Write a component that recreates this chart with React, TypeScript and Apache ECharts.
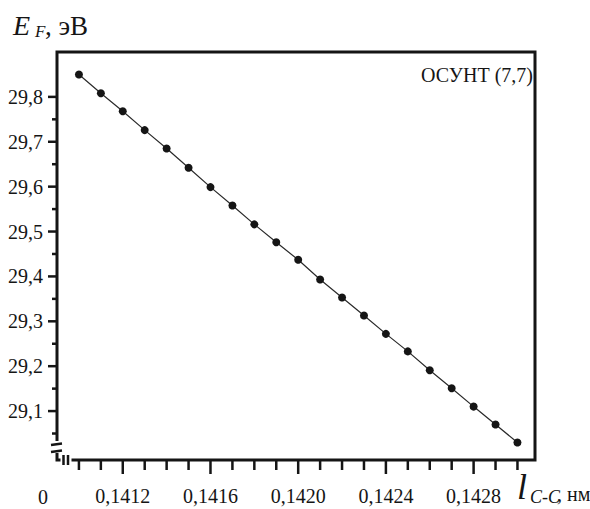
import React, { useEffect, useRef } from 'react';
import * as echarts from 'echarts';

// C–C bond length, nm
const bondLengths = [
  0.141, 0.1411, 0.1412, 0.1413, 0.1414, 0.1415, 0.1416, 0.1417, 0.1418, 0.1419, 0.142,
  0.1421, 0.1422, 0.1423, 0.1424, 0.1425, 0.1426, 0.1427, 0.1428, 0.1429, 0.143,
];
// Fermi energy, eV
const fermiEnergies = [
  29.85, 29.808, 29.768, 29.726, 29.685, 29.642, 29.599, 29.558, 29.516, 29.476, 29.437,
  29.393, 29.353, 29.313, 29.272, 29.233, 29.191, 29.151, 29.11, 29.07, 29.03,
];

const xMajorTicks = [0.1412, 0.1416, 0.142, 0.1424, 0.1428];
const xMinorTicks = [
  0.141, 0.1411, 0.1413, 0.1414, 0.1415, 0.1417, 0.1418, 0.1419, 0.1421, 0.1422, 0.1423,
  0.1425, 0.1426, 0.1427, 0.1429, 0.143,
];
const yMajorTicks = [29.1, 29.2, 29.3, 29.4, 29.5, 29.6, 29.7, 29.8];
const yMinorTicks = [29.05, 29.15, 29.25, 29.35, 29.45, 29.55, 29.65, 29.75];

const seriesLabel = 'ОСУНТ (7,7)';

const SERIF = 'Liberation Serif';
const INK = '#151515';

function buildOption(): any {
  const xMin = 0.1409;
  const xMax = 0.14308;
  const yMin = 28.991;
  const yMax = 29.9;

  const text = (str: string, x: number, y: number, size: number, italic: boolean, align: string = 'left') => ({
    type: 'text',
    x,
    y,
    z: 110,
    style: {
      text: str,
      font: (italic ? 'italic ' : '') + size + 'px ' + SERIF,
      fill: INK,
      align,
      verticalAlign: 'middle',
      textAlign: align,
      textVerticalAlign: 'middle',
    },
  });

  const line = (x1: number, y1: number, x2: number, y2: number) => ({
    type: 'line',
    z: 110,
    shape: { x1, y1, x2, y2 },
    style: { stroke: INK, lineWidth: 2.5 },
  });

  const tickSeries = (values: number[], dir: 'x' | 'y', len: number) => ({
    type: 'custom',
    coordinateSystem: 'cartesian2d',
    silent: true,
    clip: false,
    z: 4,
    data: values.map((v) => (dir === 'x' ? [v, yMin] : [xMin, v])),
    renderItem: (params: any, api: any) => {
      const p = api.coord([api.value(0), api.value(1)]);
      const shape =
        dir === 'x'
          ? { x1: p[0], y1: p[1], x2: p[0], y2: p[1] + len }
          : { x1: p[0], y1: p[1], x2: p[0] - len, y2: p[1] };
      return { type: 'line', shape, style: { stroke: INK, lineWidth: 2.5 } };
    },
  });

  return {
    animation: false,
    backgroundColor: '#ffffff',
    textStyle: { fontFamily: SERIF },
    grid: {
      left: 57,
      right: 55,
      top: 52,
      bottom: 49,
      outerBoundsMode: 'none',
      containLabel: false,
      show: true,
      borderColor: INK,
      borderWidth: 3,
      backgroundColor: 'transparent',
    },
    xAxis: {
      type: 'value',
      min: xMin,
      max: xMax,
      axisLine: { show: false },
      splitLine: { show: false },
      axisTick: { show: false },
      axisLabel: {
        show: true,
        customValues: xMajorTicks,
        margin: 26,
        fontFamily: SERIF,
        fontSize: 20,
        color: INK,
        formatter: (v: number) => v.toFixed(4).replace('.', ','),
      },
    },
    yAxis: {
      type: 'value',
      min: yMin,
      max: yMax,
      axisLine: { show: false },
      splitLine: { show: false },
      axisTick: { show: false },
      axisLabel: {
        show: true,
        customValues: yMajorTicks,
        margin: 14,
        fontFamily: SERIF,
        fontSize: 20,
        color: INK,
        formatter: (v: number) => v.toFixed(1).replace('.', ','),
      },
    },
    series: [
      {
        type: 'line',
        data: bondLengths.map((x, i) => [x, fermiEnergies[i]]),
        symbol: 'circle',
        symbolSize: 8,
        itemStyle: { color: INK },
        lineStyle: { color: '#2a2a2a', width: 1.2 },
        z: 5,
      },
      tickSeries(xMajorTicks, 'x', 14),
      tickSeries(xMinorTicks, 'x', 10),
      tickSeries(yMajorTicks, 'y', 9),
      tickSeries(yMinorTicks, 'y', 5),
    ],
    graphic: [
      // y-axis break
      { type: 'rect', z: 105, shape: { x: 50, y: 441, width: 14, height: 12 }, style: { fill: '#ffffff' } },
      line(51, 445, 62, 443.5),
      line(51, 452, 62, 450.5),
      // x-axis break
      { type: 'rect', z: 105, shape: { x: 60.5, y: 455, width: 11, height: 10 }, style: { fill: '#ffffff' } },
      line(63.5, 455, 63.5, 465),
      line(68, 455, 68, 465),
      // y-axis title
      text('E', 13, 25.5, 28, true),
      text('F', 35, 31.3, 17, true),
      text(', эВ', 45, 25.9, 27, false),
      // origin and x-axis title
      text('0', 43, 496.5, 20, false, 'center'),
      text('l', 517, 486.5, 36, true),
      text('C-C', 530, 496.5, 18, true),
      text(', нм', 557, 493.5, 20, false),
      // series label
      text(seriesLabel, 533, 74.5, 20, false, 'right'),
    ],
  };
}

export default function App() {
  const ref = useRef<HTMLDivElement>(null);
  useEffect(() => {
    if (!ref.current) return;
    const chart = echarts.init(ref.current, null, { renderer: 'svg' });
    chart.setOption(buildOption());
    return () => chart.dispose();
  }, []);
  return (
    <div
      ref={ref}
      style={{ position: 'fixed', left: 0, top: 0, width: 590, height: 509, background: '#ffffff' }}
    />
  );
}
